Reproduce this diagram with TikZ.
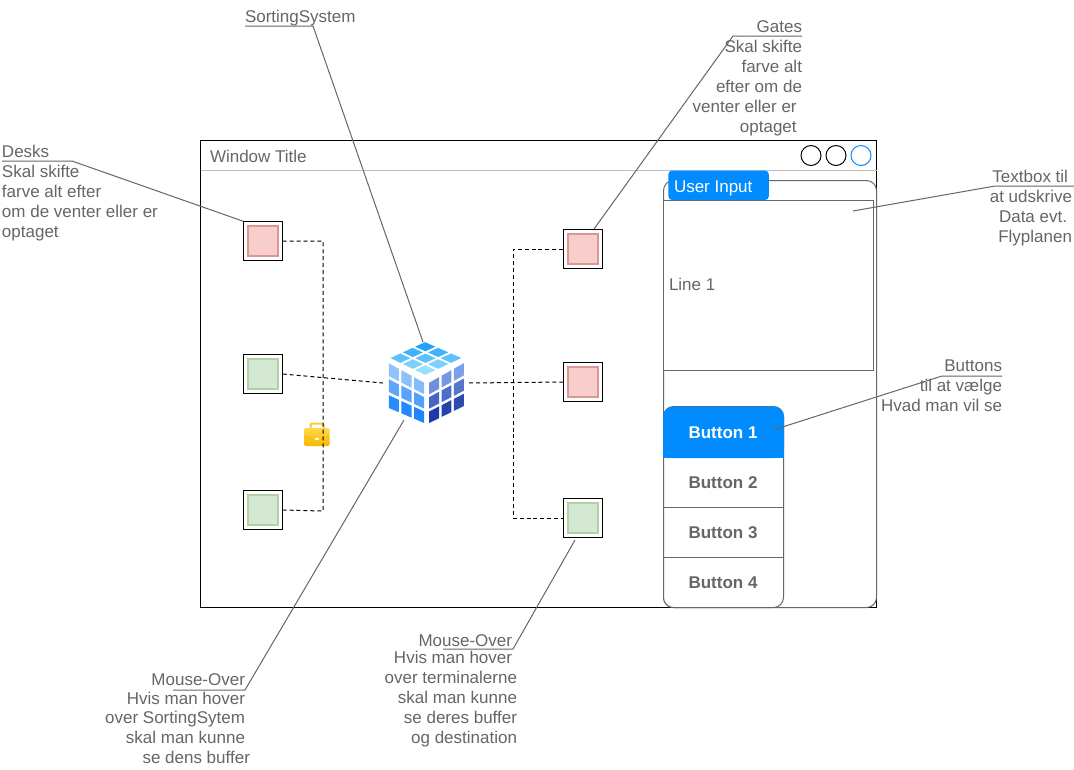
\documentclass[tikz,border=0pt]{standalone}
\usepackage{fontspec}
\setmainfont{Liberation Sans}
\usetikzlibrary{calc}
\definecolor{txt}{HTML}{666666}
\definecolor{blue1}{HTML}{008CFF}
\definecolor{pinkline}{HTML}{DC9794}
\definecolor{pinkfill}{HTML}{F8CECC}
\definecolor{greenline}{HTML}{B2D1A5}
\definecolor{greenfill}{HTML}{D5E8D4}
\definecolor{caseline}{HTML}{FFC82E}
\definecolor{casetop}{HTML}{FFD84D}
\definecolor{casebot}{HTML}{F9B800}
\definecolor{topa}{HTML}{22A4FA}
\definecolor{topb}{HTML}{9ADFFF}
\definecolor{lefta}{HTML}{93C2FA}
\definecolor{leftb}{HTML}{1C86FF}
\definecolor{righta}{HTML}{7F9FE8}
\definecolor{rightb}{HTML}{1D3AA8}
\newcommand{\fs}{\fontsize{12.75pt}{15pt}\selectfont}
\newcommand{\gap}[1]{\rule{#1pt}{0pt}}
\newcommand{\bilx}[2]{((1-#1)*(1-#2)*\pax+(#1)*(1-#2)*\pbx+(1-#1)*(#2)*\pcx+(#1)*(#2)*\pdx)}
\newcommand{\bily}[2]{((1-#1)*(1-#2)*\pay+(#1)*(1-#2)*\pby+(1-#1)*(#2)*\pcy+(#1)*(#2)*\pdy)}
% face: four corners P00 P10 P01 P11 (x,y each), then a colour-mix formula
\newcommand{\tile}[9]{%
 \def\pax{#1}\def\pay{#2}\def\pbx{#3}\def\pby{#4}\def\pcx{#5}\def\pcy{#6}\def\pdx{#7}\def\pdy{#8}%
 \foreach \ii in {0,1,2}{\foreach \jj in {0,1,2}{%
  \pgfmathtruncatemacro{\mx}{#9}%
  \pgfmathsetmacro{\ua}{(\ii+.1)/3}\pgfmathsetmacro{\ub}{(\ii+.9)/3}%
  \pgfmathsetmacro{\va}{(\jj+.1)/3}\pgfmathsetmacro{\vb}{(\jj+.9)/3}%
  \fill[fill=cubeb!\mx!cubea]
   ({\bilx\ua\va},{\bily\ua\va}) -- ({\bilx\ub\va},{\bily\ub\va}) --
   ({\bilx\ub\vb},{\bily\ub\vb}) -- ({\bilx\ua\vb},{\bily\ua\vb}) -- cycle;
 }}}
\tikzset{
 every node/.style={font=\fs,outer sep=0pt},
 sq/.style={draw=black,line width=.75pt,minimum size=29.6pt,inner sep=0pt,fill=white},
 inpink/.style={draw=pinkline,fill=pinkfill,line width=1.1pt,minimum size=22.5pt,inner sep=0pt},
 ingreen/.style={draw=greenline,fill=greenfill,line width=1.1pt,minimum size=22.5pt,inner sep=0pt},
 link/.style={dash pattern=on 3pt off 2.2pt,line width=.75pt,black},
 lead/.style={draw=txt,line width=.75pt},
 lbl/.style={text=txt,inner sep=0pt,outer sep=0pt},
 lblr/.style={lbl,align=right,anchor=north east},
 lbll/.style={lbl,align=left,anchor=north west},
 btn/.style={text=txt,font=\fs\bfseries,inner sep=0pt},
 circ/.style={draw=black,line width=.75pt,circle,minimum size=15pt,inner sep=0pt},
}
\begin{document}
\begin{tikzpicture}[x=.75pt,y=-.75pt]
\fill[white] (0,0) rectangle (1074,769);
\useasboundingbox (0,0) rectangle (1074,769);
% window
\node[draw=black,line width=.75pt,minimum width=507pt,minimum height=350.25pt,inner sep=0pt,anchor=north west] (win) at (200.5,140.5) {};
\draw[draw=black!25,line width=.75pt] (200.5,170.5) -- (876.5,170.5);
\node[lbl,anchor=west] (wt) at (210,156) {Window Title};
\node[circ] (c1) at (811,155.5) {};
\node[circ] (c2) at (836,155.5) {};
\node[circ,draw=blue1] (c3) at (861,155.5) {};
% panel
\draw[draw=txt,fill=white,line width=.75pt,rounded corners=7.5pt] (663.5,180.5) rectangle (876.5,607.5);
\draw[draw=txt,line width=.75pt,fill=white] (663.5,200.5) rectangle (873.5,370.5);
\node[fill=blue1,rounded corners=3pt,minimum width=75.4pt,minimum height=22.2pt,inner sep=0pt,anchor=north west,text=white] (ui) at (668.3,170.5) {};
\node[text=white,inner sep=0pt,anchor=west] (uit) at (674,188) {User Input};
\node[lbl,anchor=west] (l1) at (669,284.5) {Line 1};
\coordinate (tbx) at (853,211);
% buttons
\draw[draw=txt,fill=white,line width=.75pt,rounded corners=7.5pt] (663.5,406.5) rectangle (783.5,607.5);
\fill[blue1,rounded corners=7.5pt] (663,406.5) -- (784,406.5) -- (784,458) -- (663,458) -- cycle;
\fill[blue1] (663,440) rectangle (784,458);
\draw[draw=txt,line width=.75pt] (663.5,507.5) -- (783.5,507.5) (663.5,557.5) -- (783.5,557.5);
\node[btn,text=white] (b1) at (723,433) {Button 1};
\node[btn] (b2) at (723,483) {Button 2};
\node[btn] (b3) at (723,533) {Button 3};
\node[btn] (b4) at (723,583) {Button 4};
\coordinate (bt) at (773,430);
% squares
\node[sq] (d1) at (263,241) {}; \node[inpink] (d1i) at (d1) {};
\node[sq] (d2) at (263,374) {}; \node[ingreen] (d2i) at (d2) {};
\node[sq] (d3) at (263,510) {}; \node[ingreen] (d3i) at (d3) {};
\node[sq] (g1) at (583,249) {}; \node[inpink] (g1i) at (g1) {};
\node[sq] (g2) at (583,382) {}; \node[inpink] (g2i) at (g2) {};
\node[sq] (g3) at (583,518) {}; \node[ingreen] (g3i) at (g3) {};
\coordinate (g1t) at (594,229);
\coordinate (g3b) at (575,540);
% briefcase
\draw[line width=1.5pt,draw=caseline,rounded corners=1pt,fill=white] (310.5,429) -- (310.5,423.5) -- (323.5,423.5) -- (323.5,429);
\shade[top color=casetop,bottom color=casebot,rounded corners=1pt] (304,428) rectangle (329.5,446);
\draw[draw=casebot,line width=.5pt] (304.5,436) .. controls (312,440) and (322,440) .. (329,436);
\fill[white] (315,437.5) rectangle (319,440);
% cube
\node[inner sep=0pt,minimum width=63pt,minimum height=62pt] (cube) at (426,383) {};
\coordinate (cubeL) at (383,383);
\coordinate (cubeR) at (468,383);
\coordinate (cubeT) at (423,342);
\coordinate (cubeB) at (404,420);
\colorlet{cubea}{topa}\colorlet{cubeb}{topb}
\tile{425}{341}{464}{358}{388}{358}{425}{376}{(\ii+\jj)*25}
\colorlet{cubea}{lefta}\colorlet{cubeb}{leftb}
\tile{387.5}{361}{425.5}{382}{387.5}{409}{425.5}{425}{(\jj*45)+(\ii*5)}
\colorlet{cubea}{righta}\colorlet{cubeb}{rightb}
\tile{428}{382}{465}{361}{428}{425}{465}{407}{(\jj*42)+(2-\ii)*8}
% links
\draw[link] (d1.east) -- (323,241) -- (323,511) -- (d3.east);
\draw[link] (d2.east) -- (cubeL);
\draw[link] (g1.west) -- (513,249) -- (513,518) -- (g3.west);
\draw[link] (g2.west) -- (cubeR);
% labels
\node[lbll] (ls) at (245,10) {SortingSystem};
\draw[lead] (245,26) -- (313,26) -- (cubeT);
\node[lblr] (lg) at (802,21) {Gates\\Skal skifte\\farve alt\\efter om de\\venter eller er\gap{4}\\optaget\gap{4}};
\draw[lead] (802,36) -- (733,36) -- (g1t);
\node[lbll] (ld) at (2,145) {Desks\\Skal skifte\\farve alt efter\\om de venter eller er\\optaget};
\draw[lead] (2,161) -- (72,161) -- (d1.north west);
\node[lblr] (lt) at (1072,170) {Textbox til\gap{3}\\at udskrive\\Data evt.\gap{3.7}\\Flyplanen};
\draw[lead] (1074,186) -- (995,186) -- (tbx);
\node[lblr] (lb) at (1002,360) {Buttons\\til at vælge\\Hvad man vil se};
\draw[lead] (1002,376) -- (942,376) -- (bt);
\node[lblr] (lm) at (245,674) {Mouse-Over\\[-.75pt]Hvis man hover\\[-.75pt]over SortingSytem\\skal man kunne\\\llap{se dens buffer\hspace*{-3.7pt}}};
\draw[lead] (173,690) -- (245,690) -- (cubeB);
\node[lblr] (ln) at (517,635) {Mouse-Over\gap{3.7}\\[-2.25pt]Hvis man hover\gap{3.7}\\over terminalerne\\skal man kunne\\se deres buffer\\og destination};
\draw[lead] (443,649) -- (513,649) -- (g3b);
\end{tikzpicture}
\end{document}
